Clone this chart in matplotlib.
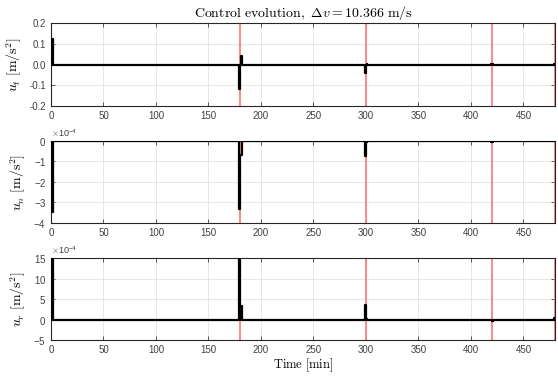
import matplotlib
matplotlib.use('Agg')
import matplotlib.pyplot as plt
from matplotlib.ticker import ScalarFormatter

plt.rcParams['font.family'] = ['Liberation Sans', 'DejaVu Sans']
plt.rcParams['mathtext.fontset'] = 'cm'
plt.rcParams['axes.unicode_minus'] = False

# switch times [min] (value holds until next time)
t_ut = [0, 0.5, 1.5, 179, 180, 180.5, 181.5, 299, 300, 300.5, 301, 419.5, 420.5, 479, 480]
u_t = [0, 0.125, 0, -0.12, 0, 0.042, 0, -0.04, 0, 0.004, 0, 0.002, 0, 0.001, 0]

t_un = [0, 0.5, 1.5, 179, 180, 181.5, 299, 300, 301, 419.5, 420.5, 479, 480]
u_n = [0, -3.45e-4, 0, -3.3e-4, -0.7e-4, 0, -0.75e-4, -0.05e-4, 0, -0.05e-4, 0, -0.02e-4, 0]

t_ur = [0, 0.5, 1.5, 179, 180, 180.5, 181.5, 299, 300, 301, 420, 421, 479, 480]
u_r = [0, 15.5e-4, 0, 15.5e-4, 0, 3.3e-4, 0, 3.5e-4, 0.2e-4, 0, -0.3e-4, 0, 0.3e-4, 0]

# segment boundaries [min]
t_marks = [180, 300, 420, 480]

ylabels = [r'$u_t\ [\mathrm{m/s^2}]$', r'$u_n\ [\mathrm{m/s^2}]$', r'$u_r\ [\mathrm{m/s^2}]$']
ylims = [(-0.2, 0.2), (-4e-4, 0), (-5e-4, 15e-4)]
yticks = [[-0.2, -0.1, 0, 0.1, 0.2],
          [-4e-4, -3e-4, -2e-4, -1e-4, 0],
          [-5e-4, 0, 5e-4, 10e-4, 15e-4]]
xticks = [0, 50, 100, 150, 200, 250, 300, 350, 400, 450]

fig = plt.figure(figsize=(5.58, 3.77), dpi=100)
boxes = [[0.0914, 0.7188, 0.9032, 0.2202],
         [0.0914, 0.4085, 0.9032, 0.2175],
         [0.0914, 0.0981, 0.9032, 0.2175]]
series = [(t_ut, u_t), (t_un, u_n), (t_ur, u_r)]

grey = '#262626'
for i in range(3):
    ax = fig.add_axes(boxes[i])
    t, u = series[i]
    ax.step(t, u, where='post', color='black', lw=1.6, zorder=3)
    for tm in t_marks:
        ax.axvline(tm, color='#ff7f7f', lw=1.3, zorder=2)
    ax.set_xlim(0, 480)
    ax.set_ylim(ylims[i])
    ax.set_xticks(xticks)
    ax.set_yticks(yticks[i])
    ax.grid(True, color='#e3e3e3', lw=0.6)
    ax.set_axisbelow(True)
    ax.tick_params(direction='in', top=True, right=True, labelsize=7,
                   colors='#404040', length=3, width=0.6)
    for s in ax.spines.values():
        s.set_color(grey)
        s.set_linewidth(0.8)
    ax.set_ylabel(ylabels[i], fontsize=10, labelpad=4)
    if i > 0:
        fmt = ScalarFormatter(useMathText=True)
        fmt.set_powerlimits((-4, -4))
        ax.yaxis.set_major_formatter(fmt)
        ax.yaxis.get_offset_text().set_fontsize(6.5)
        ax.yaxis.get_offset_text().set_color('#404040')
    if i == 0:
        ax.set_title(r'$\mathrm{Control\ evolution,}\ \Delta v = 10.366\ \mathrm{m/s}$',
                     fontsize=10, pad=4)
    if i == 2:
        ax.set_xlabel(r'$\mathrm{Time\ [min]}$', fontsize=9, labelpad=1)

fig.savefig('out.png', dpi=100)
